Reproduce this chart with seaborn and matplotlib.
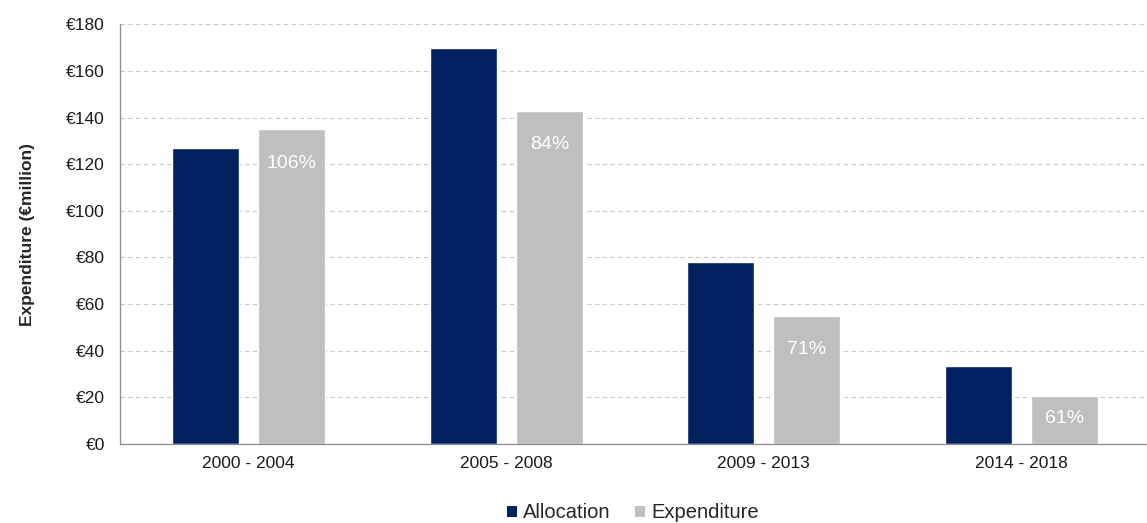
import matplotlib
matplotlib.use("Agg")
import matplotlib.pyplot as plt
import matplotlib.ticker as mticker
from matplotlib.patches import Patch
import numpy as np
import pandas as pd
import seaborn as sns

# Data (€ million)
periods = ["2000 - 2004", "2005 - 2008", "2009 - 2013", "2014 - 2018"]
allocation = [127, 170, 78, 33.5]
expenditure = [135, 143, 55, 20.5]
series_names = ["Allocation", "Expenditure"]
y_ticks = [0, 20, 40, 60, 80, 100, 120, 140, 160, 180]

navy = "#002060"
grey = "#BFBFBF"
axis_grey = "#8C8C8C"

sns.set_style("white")
plt.rcParams["font.family"] = ["Liberation Sans", "DejaVu Sans"]

df = pd.DataFrame({
    "period": periods * 2,
    "series": [series_names[0]] * len(periods) + [series_names[1]] * len(periods),
    "value": allocation + expenditure,
})

fig = plt.figure(figsize=(11.47, 5.23), dpi=100)
ax = fig.add_axes([120 / 1147, 1 - 444 / 523, 1030 / 1147, (444 - 24.3) / 523])

sns.barplot(data=df, x="period", y="value", hue="series", hue_order=series_names,
            palette=[navy, grey], width=0.668, gap=0.22, saturation=1,
            errorbar=None, legend=False, ax=ax)

ax.set_xlim(-0.5, 3.5)
ax.set_ylim(0, 180)
ax.set_yticks(y_ticks)
ax.yaxis.set_major_formatter(mticker.FuncFormatter(lambda v, p: f"€{int(v)}"))
ax.yaxis.grid(True, linestyle=(0, (4, 3)), color="#C8C8C8", linewidth=0.8)
ax.set_axisbelow(True)

for side in ("top", "right"):
    ax.spines[side].set_visible(False)
for side in ("left", "bottom"):
    ax.spines[side].set_color(axis_grey)
    ax.spines[side].set_linewidth(0.9)

ax.tick_params(axis="y", length=5, width=0.9, color=axis_grey, direction="out",
               labelsize=12.5, pad=6, labelcolor="#1a1a1a")
ax.tick_params(axis="x", which="major", length=0, labelsize=12.5, pad=9,
               labelcolor="#1a1a1a")
ax.xaxis.set_minor_locator(mticker.FixedLocator(np.arange(-0.5, 3.6, 1.0)))
ax.tick_params(axis="x", which="minor", length=5, width=0.9, color=axis_grey,
               direction="out")

ax.set_xlabel("")
ax.set_ylabel("Expenditure (€million)", fontsize=12.5, fontweight="bold",
              labelpad=22)

# Spend-to-allocation ratio written inside each expenditure bar
px_per_unit = (444 - 24.3) / 180
for bar, alloc, spent in zip(ax.containers[1], allocation, expenditure):
    pct = round(spent / alloc * 100)
    height_px = spent * px_per_unit
    offset_px = min(34, height_px / 2 - 2)
    ax.annotate(f"{pct}%", xy=(bar.get_x() + bar.get_width() / 2, spent),
                xytext=(0, -offset_px * 0.72), textcoords="offset points",
                ha="center", va="center", color="white", fontsize=14)

handles = [Patch(facecolor=navy, edgecolor="none"),
           Patch(facecolor=grey, edgecolor="none")]
fig.legend(handles, series_names, loc="center", ncol=2, frameon=False,
           bbox_to_anchor=(633 / 1147, 1 - 513 / 523), fontsize=14.5,
           handlelength=0.5, handleheight=0.5, handletextpad=0.3,
           columnspacing=1.2)

fig.savefig("out.png", dpi=100)
